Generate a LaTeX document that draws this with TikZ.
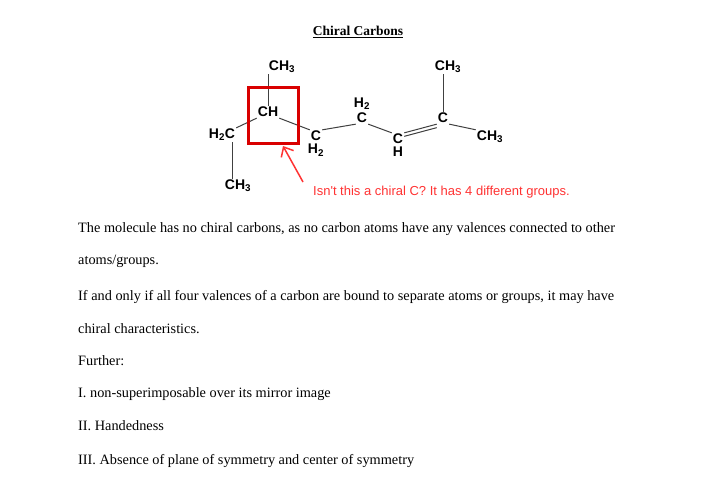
\documentclass[tikz,border=0pt]{standalone}
\usepackage{fontspec}
\setmainfont{Liberation Serif}
\newfontfamily\atomfont{Liberation Sans}
\usetikzlibrary{positioning,arrows.meta}
\tikzset{
  atom/.style={font=\atomfont\bfseries\fontsize{14}{14}\selectfont, inner sep=1pt},
  bond/.style={line width=1pt, black!75},
  body/.style={anchor=base west, font=\fontsize{14.3}{16}\selectfont, inner sep=0pt},
}
\newcommand{\sub}[1]{\textsubscript{#1}}
\begin{document}
\begin{tikzpicture}[x=1pt,y=-1pt]
    \useasboundingbox[fill=white] (0,0) rectangle (720,503);
    \node[font=\bfseries\fontsize{13.5}{14}\selectfont] (title) at (358,32) {\underline{Chiral Carbons}};
    % molecule
    \node[atom] (ch) at (268,112) {CH};
    \node[atom] (me1) at (282,67) {CH\sub{3}};
    \node[atom] (h2c) at (222,135) {H\sub{2}C};
    \node[atom] (me2) at (238,186) {CH\sub{3}};
    \node[atom] (c1) at (316,136) {C};
    \node[atom, below=1pt of c1] (c1h) {H\sub{2}};
    \node[atom] (c2) at (362,118) {C};
    \node[atom, above=1pt of c2] (c2h) {H\sub{2}};
    \node[atom] (c3) at (398,139) {C};
    \node[atom, below=1pt of c3] (c3h) {H};
    \node[atom] (c4) at (443,118) {C};
    \node[atom] (me3) at (448,67) {CH\sub{3}};
    \node[atom] (me4) at (490,137) {CH\sub{3}};
    \draw[bond] (me1.south -| 268,0) -- (ch.north);
    \draw[bond] (ch.south west) -- (h2c.north east);
    \draw[bond] (h2c.south -| 232,0) -- (me2.north -| 232,0);
    \draw[bond] (ch.south east) -- (c1.north west);
    \draw[bond] (c1.north east) -- (c2.south west);
    \draw[bond] (c2.south east) -- (c3.north west);
    \draw[bond] (c3.north east) -- (c4.south west);
    \draw[bond] ([yshift=-3.5pt]c3.north east) -- ([yshift=-3.5pt]c4.south west);
    \draw[bond] (me3.south -| c4) -- (c4.north);
    \draw[bond] (c4.south east) -- (me4.north west);
    % annotation
    \draw[red!85!black, line width=3pt] (248,87) rectangle (298,143);
    \coordinate (tip) at (283,146);
    \node[anchor=west, text=red!80, font=\atomfont\fontsize{13}{14}\selectfont, inner sep=0pt] (note) at (313,192) {Isn't this a chiral C? It has 4 different groups.};
    \draw[red!80, line width=1.5pt, -{Straight Barb[length=8pt,width=14pt]}] (303,182) -- (tip);
    % text
    \node[body] (l1) at (78,232) {The molecule has no chiral carbons, as no carbon atoms have any valences connected to other};
    \node[body] (l2) at (78,264) {atoms/groups.};
    \node[body] (l3) at (78,300) {If and only if all four valences of a carbon are bound to separate atoms or groups, it may have};
    \node[body] (l4) at (78,333) {chiral characteristics.};
    \node[body] (l5) at (78,365) {Further:};
    \node[body] (l6) at (78,397) {I. non-superimposable over its mirror image};
    \node[body] (l7) at (78,430) {II. Handedness};
    \node[body] (l8) at (78,464) {III. Absence of plane of symmetry and center of symmetry};
\end{tikzpicture}
\end{document}
